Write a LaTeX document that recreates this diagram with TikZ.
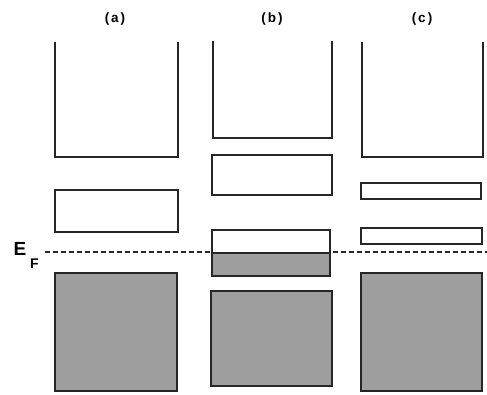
\documentclass[tikz,border=0pt]{standalone}
\usepackage{fontspec}
\setmainfont{Liberation Sans}
\begin{document}
\begin{tikzpicture}[x=1pt,y=-1pt,
  band/.style={draw=black!85,line width=1.2pt,fill=white},
  filled/.style={draw=black!85,line width=1.4pt,fill=black!38},
  openband/.style={draw=black!85,line width=1.2pt},
  fermi/.style={draw=black!85,line width=1.2pt,dash pattern=on 5pt off 3pt},
  collabel/.style={font=\bfseries\fontsize{13.5}{15}\selectfont,inner sep=0pt}]
\useasboundingbox (0,0) rectangle (487,394);
% Fermi level
\draw[fermi] (45,252) -- (487,252);
\node[inner sep=0pt,font=\bfseries\fontsize{19}{20}\selectfont] (E) at (20,249) {E};
\node[inner sep=0pt,font=\bfseries\fontsize{14}{16}\selectfont] (F) at (34.5,264) {F};
% column labels
\node[collabel] (la) at (115,19) {(\kern2pt a\kern2pt)};
\node[collabel] (lb) at (272,19) {(\kern2pt b\kern2pt)};
\node[collabel] (lc) at (422,19) {(\kern2pt c\kern2pt)};
% column (a)
\draw[openband] (55,42) -- (55,157) -- (178,157) -- (178,42);
\draw[band] (55,190) rectangle (178,232);
\draw[filled] (55,273) rectangle (177,391);
% column (b)
\draw[openband] (213,41) -- (213,138) -- (332,138) -- (332,41);
\draw[band] (212,155) rectangle (332,195);
\draw[band] (212,230) rectangle (330,276);
\fill[black!38] (212,253) rectangle (330,276);
\draw[draw=black!85,line width=1.3pt] (212,253) -- (330,253);
\draw[draw=black!85,line width=1.2pt] (212,230) rectangle (330,276);
\draw[filled] (211,291) rectangle (332,386);
% column (c)
\draw[openband] (362,42) -- (362,157) -- (483,157) -- (483,42);
\draw[band] (361,183) rectangle (481,199);
\draw[band] (361,228) rectangle (482,244);
\draw[filled] (361,273) rectangle (482,391);
\end{tikzpicture}
\end{document}
